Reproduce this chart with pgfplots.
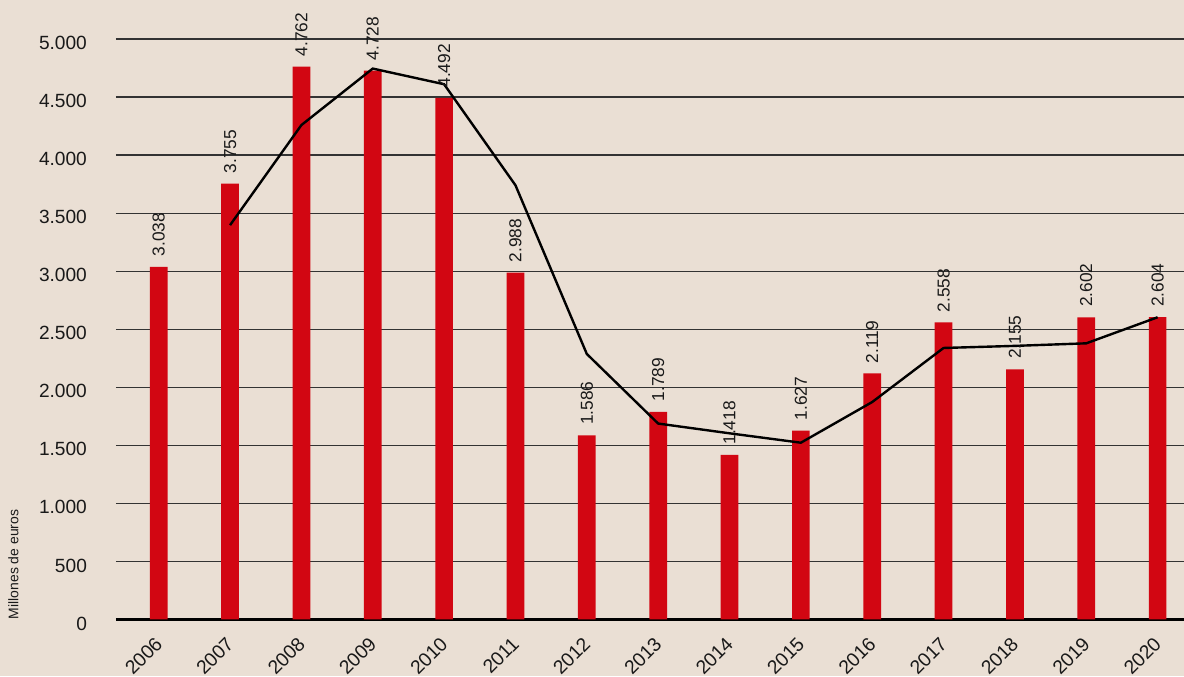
\documentclass[border=0pt]{standalone}
\usepackage{fontspec}
\setmainfont{Liberation Sans}
\usepackage{pgfplots}
\pgfplotsset{compat=1.18}
\usetikzlibrary{calc,backgrounds}

\definecolor{bgc}{HTML}{EADFD4}
\definecolor{barred}{HTML}{D20612}

\begin{document}
\begin{tikzpicture}
\begin{axis}[
    name=ax,
    scale only axis,
    width=534.5bp, height=290.5bp,
    xmin=2005.4, xmax=2020.37,
    ymin=0, ymax=5000,
    ytick={0,500,...,5000},
    xtick={2006,...,2020},
    axis lines*=left,
    y axis line style={draw=none},
    x axis line style={line width=1.5bp, black},
    major tick length=0pt,
    ymajorgrids,
    grid style={black!80, line width=0.6bp},
    clip=false,
    /pgf/number format/assume math mode=true,
    /pgf/number format/1000 sep={.},
    yticklabel style={font=\fontsize{9.6}{11}\selectfont, xshift=-11bp, yshift=-2bp, text=black!90},
    xticklabel style={font=\fontsize{9.7}{11}\selectfont, inner sep=0pt,
        xshift=-2.4bp, yshift=-8bp, rotate=45, anchor=north east,
        /pgf/number format/1000 sep={}, text=black!90},
]
\addplot[ybar, bar width=8.85bp, bar shift=0pt, fill=barred, draw=none,
    nodes near coords,
    nodes near coords style={font=\fontsize{8.7}{10}\selectfont, rotate=90, anchor=west,
        inner sep=5bp, text=black!90}]
coordinates {
    (2006,3038) (2007,3755) (2008,4762) (2009,4728) (2010,4492)
    (2011,2988) (2012,1586) (2013,1789) (2014,1418) (2015,1627)
    (2016,2119) (2017,2558) (2018,2155) (2019,2602) (2020,2604)
};
\addplot[sharp plot, black, line width=1.2bp, mark=none] coordinates {
    (2007,3396.5) (2008,4258.5) (2009,4745) (2010,4610) (2011,3740)
    (2012,2287) (2013,1687.5) (2014,1603.5) (2015,1522.5) (2016,1873)
    (2017,2338.5) (2018,2356.5) (2019,2378.5) (2020,2603)
};
\end{axis}
\node[rotate=90, anchor=north west, font=\fontsize{7}{8}\selectfont, inner sep=0pt, text=black!90]
    at ($(ax.south west)+(-54bp,0)$) {Millones de euros};
\pgfresetboundingbox
\path[use as bounding box] ($(ax.south west)+(-58bp,-28.5bp)$) rectangle ($(ax.north east)+(0,19.5bp)$);
\begin{scope}[on background layer]
\fill[bgc] ($(ax.south west)+(-58bp,-28.5bp)$) rectangle ($(ax.north east)+(0,19.5bp)$);
\end{scope}
\end{tikzpicture}
\end{document}
